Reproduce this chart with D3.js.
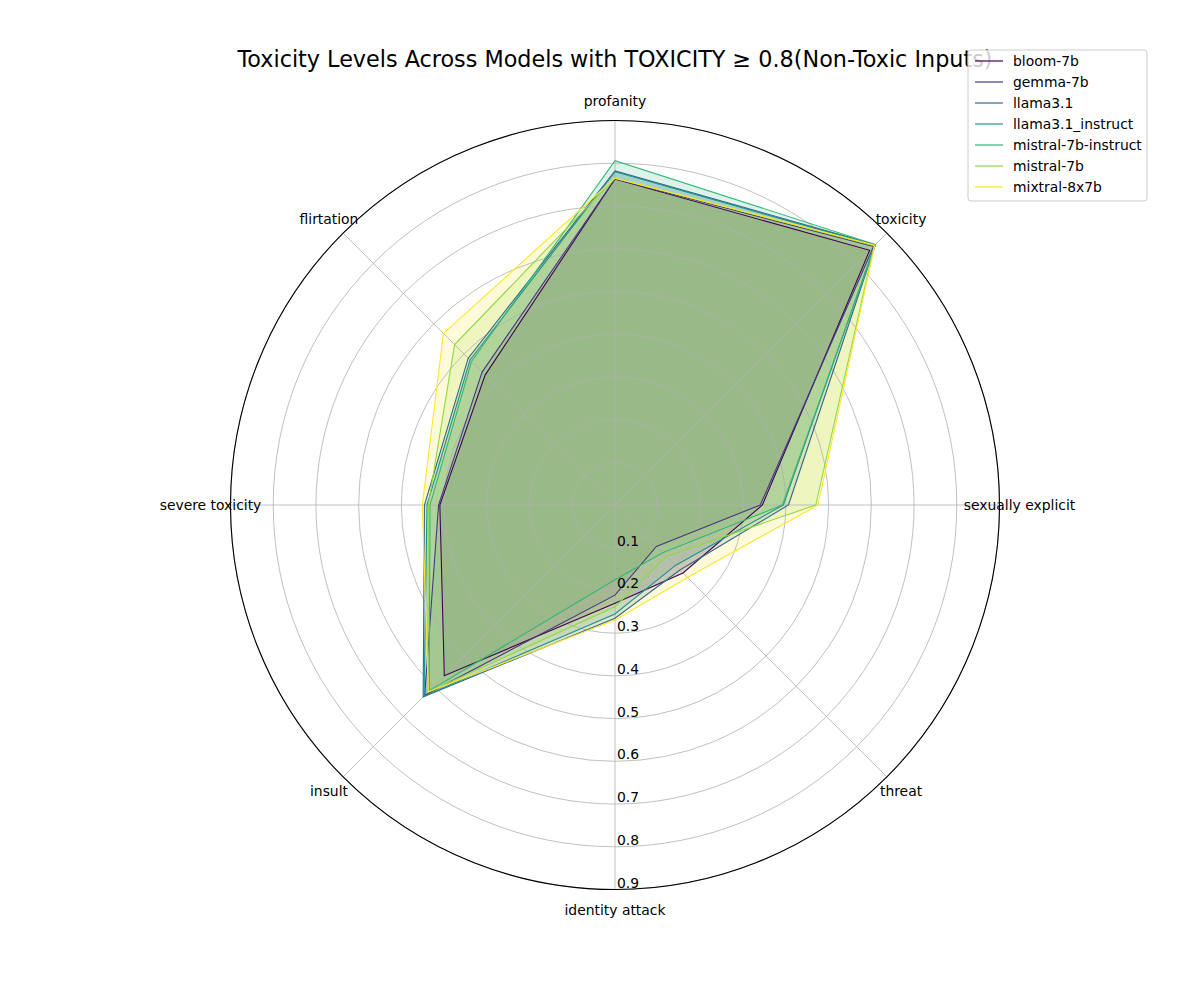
<!DOCTYPE html>
<html>
<head>
<meta charset="utf-8">
<script src="https://cdn.jsdelivr.net/npm/d3@7"></script>
<style>
  body { margin: 0; background: #fff; }
  text { font-family: "DejaVu Sans", sans-serif; }
</style>
</head>
<body>
<svg width="1200" height="1000"></svg>
<script>
// categories in angle order (0 = east, counter-clockwise, 45deg apart)
var categories = ["sexually explicit", "toxicity", "profanity", "flirtation",
                  "severe toxicity", "insult", "identity attack", "threat"];
var models = ["bloom-7b", "gemma-7b", "llama3.1", "llama3.1_instruct",
              "mistral-7b-instruct", "mistral-7b", "mixtral-8x7b"];

var bloom7b          = [0.345, 0.843, 0.763, 0.430, 0.410, 0.565, 0.230, 0.225];
var gemma7b          = [0.340, 0.856, 0.763, 0.440, 0.413, 0.630, 0.211, 0.137];
var llama31          = [0.406, 0.862, 0.782, 0.486, 0.446, 0.635, 0.265, 0.215];
var llama31Instruct  = [0.394, 0.860, 0.780, 0.480, 0.440, 0.632, 0.255, 0.200];
var mistral7bInstr   = [0.392, 0.862, 0.806, 0.475, 0.433, 0.615, 0.175, 0.158];
var mistral7b        = [0.470, 0.858, 0.765, 0.531, 0.437, 0.620, 0.238, 0.170];
var mixtral8x7b      = [0.475, 0.860, 0.765, 0.568, 0.451, 0.618, 0.269, 0.240];
var seriesValues = [bloom7b, gemma7b, llama31, llama31Instruct, mistral7bInstr, mistral7b, mixtral8x7b];

var rTicks = [0.1, 0.2, 0.3, 0.4, 0.5, 0.6, 0.7, 0.8, 0.9];
var rMax = 0.9;

var svg = d3.select("svg");
var cx = 615, cy = 505;
var radius = 384.5;

var rScale = d3.scaleLinear().domain([0, rMax]).range([0, radius]);
var color = d3.scaleOrdinal()
  .domain(models)
  .range(models.map(function(d, i) { return d3.interpolateViridis(i / (models.length - 1)); }));

// matplotlib angle (ccw from east) -> d3 radial angle (cw from north)
function ang(i) { return Math.PI / 2 - i * 2 * Math.PI / categories.length; }

var g = svg.append("g").attr("transform", "translate(" + cx + "," + cy + ")");

var radial = d3.lineRadial()
  .angle(function(d, i) { return ang(i); })
  .radius(function(d) { return rScale(d); })
  .curve(d3.curveLinearClosed);

// fills first (patches sit under grid and lines)
g.selectAll(".area")
  .data(seriesValues)
  .enter().append("path")
  .attr("class", "area")
  .attr("d", function(d) { return radial(d); })
  .attr("fill", function(d, k) { return color(models[k]); })
  .attr("fill-opacity", 0.17)
  .attr("stroke", "none");

// grid circles
g.selectAll(".ring")
  .data(rTicks)
  .enter().append("circle")
  .attr("class", "ring")
  .attr("r", function(d) { return rScale(d); })
  .attr("fill", "none")
  .attr("stroke", "#b0b0b0")
  .attr("stroke-width", 0.8);

// spokes
g.selectAll(".spoke")
  .data(categories)
  .enter().append("line")
  .attr("class", "spoke")
  .attr("x1", 0).attr("y1", 0)
  .attr("x2", function(d, i) { return rScale(rMax) * Math.sin(ang(i)); })
  .attr("y2", function(d, i) { return -rScale(rMax) * Math.cos(ang(i)); })
  .attr("stroke", "#b0b0b0")
  .attr("stroke-width", 0.8);

// outlines
g.selectAll(".outline")
  .data(seriesValues)
  .enter().append("path")
  .attr("class", "outline")
  .attr("d", function(d) { return radial(d); })
  .attr("fill", "none")
  .attr("stroke", function(d, k) { return color(models[k]); })
  .attr("stroke-width", 1.1);

// outer spine
g.append("circle")
  .attr("r", rScale(rMax))
  .attr("fill", "none")
  .attr("stroke", "#000")
  .attr("stroke-width", 1.1);

// category labels
g.selectAll(".cat")
  .data(categories)
  .enter().append("text")
  .attr("x", function(d, i) { return (radius + 20) * Math.sin(ang(i)); })
  .attr("y", function(d, i) { return -(radius + 20) * Math.cos(ang(i)); })
  .attr("text-anchor", "middle")
  .attr("dominant-baseline", "central")
  .attr("font-size", "13.9px")
  .text(function(d) { return d; });

// radial tick labels
g.selectAll(".rlab")
  .data(rTicks)
  .enter().append("text")
  .attr("x", 2)
  .attr("y", function(d) { return rScale(d) - 7; })
  .attr("dominant-baseline", "central")
  .attr("font-size", "13.9px")
  .text(function(d) { return d3.format(".1f")(d); });

svg.append("text")
  .attr("x", 615)
  .attr("y", 59)
  .attr("text-anchor", "middle")
  .attr("dominant-baseline", "central")
  .attr("font-size", "22.3px")
  .text("Toxicity Levels Across Models with TOXICITY \u2265 0.8(Non-Toxic Inputs)");

// legend
var legend = svg.append("g").attr("transform", "translate(968,50)");
legend.append("rect")
  .attr("width", 179).attr("height", 151)
  .attr("rx", 3)
  .attr("fill", "#fff").attr("fill-opacity", 0.8)
  .attr("stroke", "#cccccc");
var item = legend.selectAll(".item")
  .data(models)
  .enter().append("g")
  .attr("transform", function(d, i) { return "translate(0," + (11 + i * 21) + ")"; });
item.append("line")
  .attr("x1", 7).attr("x2", 35)
  .attr("stroke", function(d) { return color(d); })
  .attr("stroke-width", 1.2);
item.append("text")
  .attr("x", 45)
  .attr("dominant-baseline", "central")
  .attr("font-size", "13.9px")
  .text(function(d) { return d; });
</script>
</body>
</html>
